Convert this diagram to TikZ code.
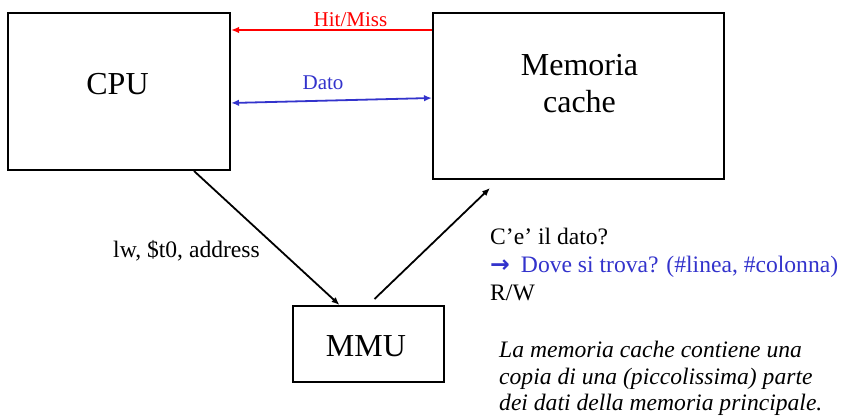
\documentclass[tikz,border=0pt]{standalone}
\usepackage{fontspec}
\setmainfont{Liberation Serif}
\newfontfamily\symfont{DejaVu Sans}
\usetikzlibrary{arrows.meta}
\definecolor{hitred}{RGB}{255,0,0}
\definecolor{datoblue}{RGB}{51,51,204}
\tikzset{
  unit/.style={draw=black, line width=2pt, fill=white, inner sep=0pt},
  bigtext/.style={font=\fontsize{32}{37}\selectfont, inner sep=0pt},
  midtext/.style={font=\fontsize{23.6}{28}\selectfont, inner sep=0pt, anchor=base west},
  notetext/.style={font=\fontsize{23.6}{28}\selectfont\itshape, inner sep=0pt, anchor=base west},
  smalltext/.style={font=\fontsize{21}{24}\selectfont, inner sep=0pt, anchor=base},
  conn/.style={line width=1.8pt, -{Latex[length=8pt,width=6.5pt]}},
}
\begin{document}
\begin{tikzpicture}[x=1pt,y=-1pt]
\path[use as bounding box, fill=white] (0,0) rectangle (841,420);
% boxes
\node[unit, minimum width=222pt, minimum height=157pt] (cpu) at (119,91.5) {};
\node[unit, minimum width=291pt, minimum height=166pt] (cache) at (578.5,96) {};
\node[unit, minimum width=151pt, minimum height=76pt] (mmu) at (368,344) {};
% box texts
\node[bigtext] (cputxt) at (117.5,84) {CPU};
\node[bigtext, anchor=base] (memtxt) at (579.5,75) {Memoria};
\node[bigtext, anchor=base] (cachetxt) at (579.5,113) {cache};
\node[bigtext] (mmutxt) at (366,346.5) {MMU};
% connectors between CPU and cache
\draw[conn, draw=hitred] ([yshift=-18pt]cache.north west) -- ([yshift=-18pt]cpu.north east);
\node[smalltext, text=hitred] (hitlbl) at (350.5,27) {Hit/Miss};
\draw[conn, {Latex[length=8pt,width=6.5pt]}-{Latex[length=8pt,width=6.5pt]}, draw=datoblue] ([yshift=-91pt]cpu.north east) -- ([yshift=-86pt]cache.north west);
\node[smalltext, text=datoblue] (datolbl) at (323,89) {Dato};
% CPU -> MMU -> cache
\draw[conn] ([xshift=187pt]cpu.south west) -- ([xshift=48pt]mmu.north west);
\draw[conn] ([shift={(83pt,6pt)}]mmu.north west) -- ([shift={(58pt,-8pt)}]cache.south west);
% labels
\node[midtext] (lwlbl) at (113,257) {lw, \$t0, address};
\node[midtext] (q1) at (490,244) {C’e’ il dato?};
\node[midtext, text=datoblue] (q2) at (490,272) {{\symfont\bfseries →}\hspace{11pt}Dove si trova? (\#linea, \#colonna)};
\node[midtext] (q3) at (490,300) {R/W};
\node[notetext] (n1) at (499,357) {La memoria cache contiene una};
\node[notetext] (n2) at (499,384) {copia di una (piccolissima) parte};
\node[notetext] (n3) at (499,410) {dei dati della memoria principale.};
\end{tikzpicture}
\end{document}
